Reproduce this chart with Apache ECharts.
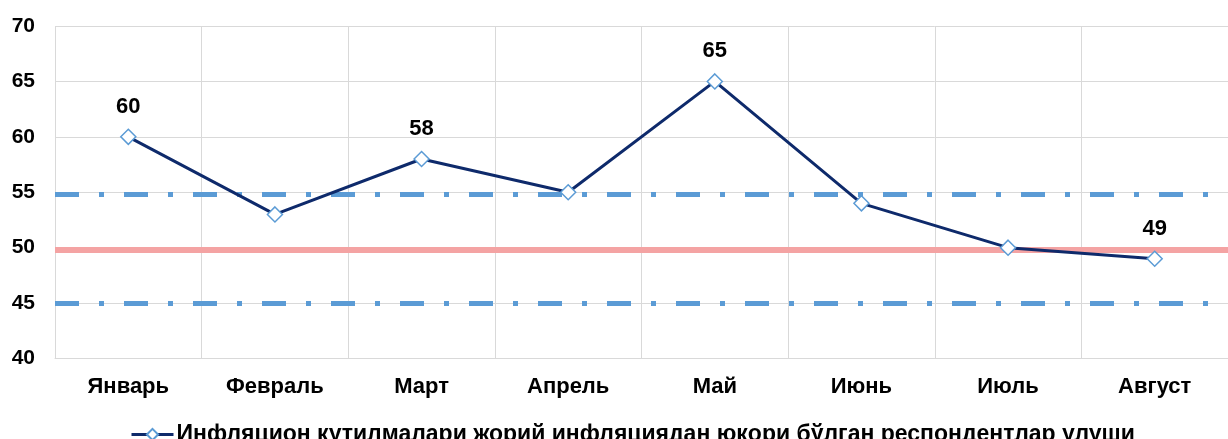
<!DOCTYPE html>
<html>
<head>
<meta charset="utf-8">
<script src="https://cdn.jsdelivr.net/npm/echarts@6/dist/echarts.min.js"></script>
<style>html,body{margin:0;padding:0;background:#fff}#c{width:1228px;height:439px}</style>
</head>
<body>
<div id="c"></div>
<script>
const categories = ['Январь','Февраль','Март','Апрель','Май','Июнь','Июль','Август'];
const values = [60, 53, 58, 55, 65, 54, 50, 49];
const labelled = [true, false, true, false, true, false, false, true];
const bandLines = [54.85, 45];
const targetLine = [49.85];
const seriesName = 'Инфляцион кутилмалари жорий инфляциядан юқори бўлган респондентлар улуши';
const yMin = 40, yMax = 70, yStep = 5;

const font = '"Liberation Sans", Arial, sans-serif';
const chart = echarts.init(document.getElementById('c'));
chart.setOption({
  animation: false,
  grid: {left: 55, right: 0, top: 26, bottom: 80.5, containLabel: false},
  xAxis: {
    type: 'category', data: categories, boundaryGap: true,
    axisLine: {show: true, lineStyle: {color: '#d9d9d9'}},
    axisTick: {show: false},
    splitLine: {show: true, lineStyle: {color: '#d9d9d9'}},
    axisLabel: {color: '#000', fontFamily: font, fontWeight: 'bold', fontSize: 22, margin: 17}
  },
  yAxis: {
    type: 'value', min: yMin, max: yMax, interval: yStep,
    axisLine: {show: false}, axisTick: {show: false},
    splitLine: {lineStyle: {color: '#d9d9d9'}},
    axisLabel: {color: '#000', fontFamily: font, fontWeight: 'bold', fontSize: 21, margin: 20}
  },
  legend: {
    data: [seriesName], top: 418, left: 125,
    itemWidth: 42, itemHeight: 14, itemGap: 4,
    lineStyle: {width: 3, color: '#0e2a6b'},
    textStyle: {color: '#000', fontFamily: font, fontWeight: 'bold', fontSize: 23, padding: [0, 0, 0, -2]}
  },
  series: [
    {
      type: 'line', name: 'bands', data: [], silent: true, z: 1,
      markLine: {
        silent: true, symbol: 'none', label: {show: false},
        lineStyle: {color: '#5b9bd5', width: 5, type: [24, 20, 5, 20]},
        data: bandLines.map(v => ({yAxis: v}))
      }
    },
    {
      type: 'line', name: 'target', data: [], silent: true, z: 1,
      markLine: {
        silent: true, symbol: 'none', label: {show: false},
        lineStyle: {color: '#f4a3a3', width: 6, type: 'solid', opacity: 1},
        data: targetLine.map(v => ({yAxis: v}))
      }
    },
    {
      type: 'line', name: seriesName, z: 5,
      data: values.map((v, i) => ({value: v, label: {show: labelled[i]}})),
      symbol: 'diamond', symbolSize: 15, showAllSymbol: true,
      lineStyle: {color: '#0e2a6b', width: 3},
      itemStyle: {color: '#ffffff', borderColor: '#5b9bd5', borderWidth: 1.5},
      label: {show: false, position: 'top', distance: 11, color: '#000', fontFamily: font, fontWeight: 'bold', fontSize: 22}
    }
  ]
});
</script>
</body>
</html>
